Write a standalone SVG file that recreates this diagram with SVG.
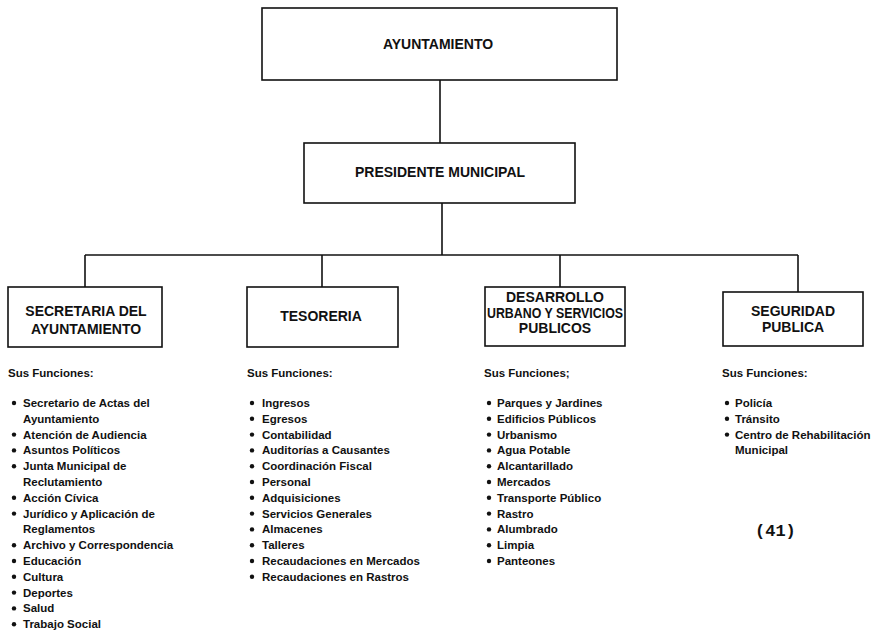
<svg xmlns="http://www.w3.org/2000/svg" xmlns:xlink="http://www.w3.org/1999/xlink" width="880" height="631" viewBox="0 0 880 631">
  <style>
    .box { fill: #fff; stroke: #111; stroke-width: 1.6; }
    .wire { fill: none; stroke: #111; stroke-width: 1.6; }
    .title { font-family: "Liberation Sans", Arial, sans-serif; font-weight: bold; font-size: 14px; fill: #111; text-anchor: middle; }
    .head { font-family: "Liberation Sans", Arial, sans-serif; font-weight: bold; font-size: 11.5px; fill: #111; }
    .item { font-family: "Liberation Sans", Arial, sans-serif; font-weight: bold; font-size: 11.5px; fill: #111; }
    .page { font-family: "Liberation Mono", "DejaVu Sans Mono", monospace; font-weight: bold; font-size: 17px; fill: #111; }
  </style>
  <defs>
    <circle id="dot" r="2.2" fill="#111"/>
  </defs>
  <rect width="880" height="631" fill="#fff"/>

  <!-- connectors -->
  <g id="connectors" class="wire">
    <line x1="440" y1="80" x2="440" y2="143"/>
    <line x1="442" y1="203" x2="442" y2="255"/>
    <line x1="85" y1="255" x2="798" y2="255"/>
    <line x1="85" y1="255" x2="85" y2="287"/>
    <line x1="322" y1="255" x2="322" y2="287"/>
    <line x1="560" y1="255" x2="560" y2="287"/>
    <line x1="798" y1="255" x2="798" y2="292"/>
  </g>

  <!-- top level -->
  <g id="ayuntamiento">
    <rect class="box" x="262" y="8" width="355" height="72"/>
    <text class="title" x="438" y="49">AYUNTAMIENTO</text>
  </g>

  <g id="presidente">
    <rect class="box" x="304" y="143" width="271" height="60"/>
    <text class="title" x="440" y="177">PRESIDENTE MUNICIPAL</text>
  </g>

  <!-- departments -->
  <g id="secretaria">
    <rect class="box" x="8" y="287" width="154" height="60"/>
    <text class="title" x="86" y="316">SECRETARIA DEL</text>
    <text class="title" x="86" y="334">AYUNTAMIENTO</text>
  </g>

  <g id="tesoreria">
    <rect class="box" x="247" y="287" width="151" height="60"/>
    <text class="title" x="321" y="321">TESORERIA</text>
  </g>

  <g id="desarrollo">
    <rect class="box" x="485" y="287" width="140" height="59"/>
    <text class="title" x="555" y="302">DESARROLLO</text>
    <text class="title" x="555" y="317.5" textLength="136" lengthAdjust="spacingAndGlyphs">URBANO Y SERVICIOS</text>
    <text class="title" x="555" y="333">PUBLICOS</text>
  </g>

  <g id="seguridad">
    <rect class="box" x="723" y="292" width="140" height="54"/>
    <text class="title" x="793" y="316">SEGURIDAD</text>
    <text class="title" x="793" y="332">PUBLICA</text>
  </g>

  <!-- function lists -->
  <g id="funciones-secretaria">
    <text class="head" x="8" y="377">Sus Funciones:</text>
    <use xlink:href="#dot" x="14" y="403"/>
    <text class="item" x="23" y="407">Secretario de Actas del</text>
    <text class="item" x="23" y="422.8">Ayuntamiento</text>
    <use xlink:href="#dot" x="14" y="434.6"/>
    <text class="item" x="23" y="438.6">Atención de Audiencia</text>
    <use xlink:href="#dot" x="14" y="450.4"/>
    <text class="item" x="23" y="454.4">Asuntos Políticos</text>
    <use xlink:href="#dot" x="14" y="466.2"/>
    <text class="item" x="23" y="470.2">Junta Municipal de</text>
    <text class="item" x="23" y="486">Reclutamiento</text>
    <use xlink:href="#dot" x="14" y="497.8"/>
    <text class="item" x="23" y="501.8">Acción Cívica</text>
    <use xlink:href="#dot" x="14" y="513.6"/>
    <text class="item" x="23" y="517.6">Jurídico y Aplicación de</text>
    <text class="item" x="23" y="533.4">Reglamentos</text>
    <use xlink:href="#dot" x="14" y="545.2"/>
    <text class="item" x="23" y="549.2">Archivo y Correspondencia</text>
    <use xlink:href="#dot" x="14" y="561"/>
    <text class="item" x="23" y="565">Educación</text>
    <use xlink:href="#dot" x="14" y="576.8"/>
    <text class="item" x="23" y="580.8">Cultura</text>
    <use xlink:href="#dot" x="14" y="592.6"/>
    <text class="item" x="23" y="596.6">Deportes</text>
    <use xlink:href="#dot" x="14" y="608.4"/>
    <text class="item" x="23" y="612.4">Salud</text>
    <use xlink:href="#dot" x="14" y="624.2"/>
    <text class="item" x="23" y="628.2">Trabajo Social</text>
  </g>

  <g id="funciones-tesoreria">
    <text class="head" x="247" y="377">Sus Funciones:</text>
    <use xlink:href="#dot" x="252" y="403"/>
    <text class="item" x="262" y="407">Ingresos</text>
    <use xlink:href="#dot" x="252" y="418.8"/>
    <text class="item" x="262" y="422.8">Egresos</text>
    <use xlink:href="#dot" x="252" y="434.6"/>
    <text class="item" x="262" y="438.6">Contabilidad</text>
    <use xlink:href="#dot" x="252" y="450.4"/>
    <text class="item" x="262" y="454.4">Auditorías a Causantes</text>
    <use xlink:href="#dot" x="252" y="466.2"/>
    <text class="item" x="262" y="470.2">Coordinación Fiscal</text>
    <use xlink:href="#dot" x="252" y="482"/>
    <text class="item" x="262" y="486">Personal</text>
    <use xlink:href="#dot" x="252" y="497.8"/>
    <text class="item" x="262" y="501.8">Adquisiciones</text>
    <use xlink:href="#dot" x="252" y="513.6"/>
    <text class="item" x="262" y="517.6">Servicios Generales</text>
    <use xlink:href="#dot" x="252" y="529.4"/>
    <text class="item" x="262" y="533.4">Almacenes</text>
    <use xlink:href="#dot" x="252" y="545.2"/>
    <text class="item" x="262" y="549.2">Talleres</text>
    <use xlink:href="#dot" x="252" y="561"/>
    <text class="item" x="262" y="565">Recaudaciones en Mercados</text>
    <use xlink:href="#dot" x="252" y="576.8"/>
    <text class="item" x="262" y="580.8">Recaudaciones en Rastros</text>
  </g>

  <g id="funciones-desarrollo">
    <text class="head" x="484" y="377">Sus Funciones;</text>
    <use xlink:href="#dot" x="489" y="403"/>
    <text class="item" x="497" y="407">Parques y Jardines</text>
    <use xlink:href="#dot" x="489" y="418.8"/>
    <text class="item" x="497" y="422.8">Edificios Públicos</text>
    <use xlink:href="#dot" x="489" y="434.6"/>
    <text class="item" x="497" y="438.6">Urbanismo</text>
    <use xlink:href="#dot" x="489" y="450.4"/>
    <text class="item" x="497" y="454.4">Agua Potable</text>
    <use xlink:href="#dot" x="489" y="466.2"/>
    <text class="item" x="497" y="470.2">Alcantarillado</text>
    <use xlink:href="#dot" x="489" y="482"/>
    <text class="item" x="497" y="486">Mercados</text>
    <use xlink:href="#dot" x="489" y="497.8"/>
    <text class="item" x="497" y="501.8">Transporte Público</text>
    <use xlink:href="#dot" x="489" y="513.6"/>
    <text class="item" x="497" y="517.6">Rastro</text>
    <use xlink:href="#dot" x="489" y="529.4"/>
    <text class="item" x="497" y="533.4">Alumbrado</text>
    <use xlink:href="#dot" x="489" y="545.2"/>
    <text class="item" x="497" y="549.2">Limpia</text>
    <use xlink:href="#dot" x="489" y="561"/>
    <text class="item" x="497" y="565">Panteones</text>
  </g>

  <g id="funciones-seguridad">
    <text class="head" x="722" y="377">Sus Funciones:</text>
    <use xlink:href="#dot" x="727" y="403"/>
    <text class="item" x="735" y="407">Policía</text>
    <use xlink:href="#dot" x="727" y="418.8"/>
    <text class="item" x="735" y="422.8">Tránsito</text>
    <use xlink:href="#dot" x="727" y="434.6"/>
    <text class="item" x="735" y="438.6">Centro de Rehabilitación</text>
    <text class="item" x="735" y="454.4">Municipal</text>
  </g>

  <!-- page number -->
  <text class="page" x="755" y="536">(41)</text>
</svg>
